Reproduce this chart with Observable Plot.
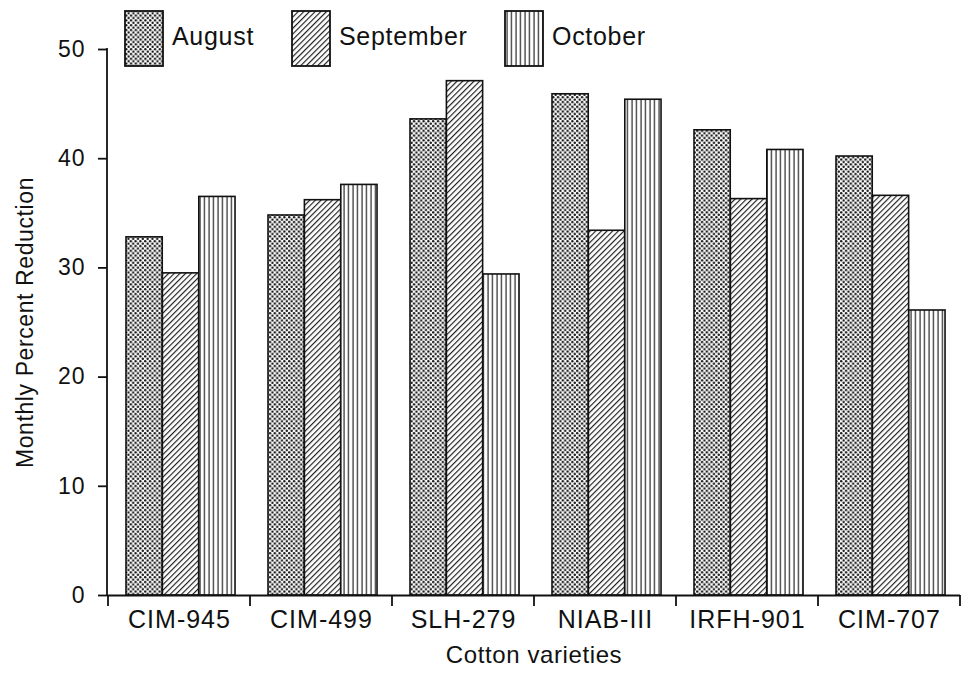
<!DOCTYPE html>
<html>
<head>
<meta charset="utf-8">
<script src="https://cdn.jsdelivr.net/npm/d3@7"></script>
<script src="https://cdn.jsdelivr.net/npm/@observablehq/plot@0.6"></script>
<style>
  body { margin: 0; background: #fff; }
  #wrap { position: relative; width: 963px; height: 673px; font-family: "Liberation Sans", Arial, sans-serif; }
  #legend { position: absolute; left: 0; top: 0; }
</style>
</head>
<body>
<svg width="0" height="0" style="position:absolute">
  <defs>
    <pattern id="pat-dots" patternUnits="userSpaceOnUse" width="4.8" height="4.8">
      <rect width="4.8" height="4.8" fill="#fff"/>
      <circle cx="1.2" cy="1.2" r="1.2" fill="#111"/>
      <circle cx="3.6" cy="3.6" r="1.2" fill="#111"/>
    </pattern>
    <pattern id="pat-diag" patternUnits="userSpaceOnUse" width="4" height="4" patternTransform="rotate(45)">
      <rect width="4" height="4" fill="#fff"/>
      <line x1="0.6" y1="0" x2="0.6" y2="4" stroke="#111" stroke-width="1.1"/>
    </pattern>
    <pattern id="pat-vert" patternUnits="userSpaceOnUse" width="4.5" height="4.5">
      <rect width="4.5" height="4.5" fill="#fff"/>
      <line x1="2" y1="0" x2="2" y2="4.5" stroke="#111" stroke-width="1.1"/>
    </pattern>
  </defs>
</svg>
<div id="wrap"></div>
<script>
// ---- data ----
const varieties = ["CIM-945", "CIM-499", "SLH-279", "NIAB-III", "IRFH-901", "CIM-707"];
const months = ["August", "September", "October"];
const augustValues    = [32.8, 34.8, 43.6, 45.9, 42.6, 40.2];
const septemberValues = [29.5, 36.2, 47.1, 33.4, 36.3, 36.6];
const octoberValues   = [36.5, 37.6, 29.4, 45.4, 40.8, 26.1];
const yTicks = [0, 10, 20, 30, 40, 50];

const seriesValues = [augustValues, septemberValues, octoberValues];
const patterns = ["url(#pat-dots)", "url(#pat-diag)", "url(#pat-vert)"];

const table = months.flatMap((m, j) =>
  varieties.map((v, i) => ({variety: v, month: m, value: seriesValues[j][i]})));

// ---- layout ----
const W = 963, H = 673, mL = 107, mR = 3, mT = 49, mB = 78;
const step = (W - mL - mR) / varieties.length;
const barW = 36.4, firstOffset = 18;
const font = "Liberation Sans, Arial, sans-serif";

const barMarks = months.map((m, j) => Plot.barY(table.filter(d => d.month === m), {
  x: "variety",
  y: "value",
  fill: patterns[j],
  stroke: "#111",
  strokeWidth: 1.6,
  insetLeft: firstOffset + j * barW,
  insetRight: step - firstOffset - (j + 1) * barW
}));

const chart = Plot.plot({
  width: W,
  height: H,
  marginLeft: mL,
  marginRight: mR,
  marginTop: mT,
  marginBottom: mB,
  style: {fontFamily: font, background: "white", color: "#111", overflow: "visible"},
  x: {domain: varieties, padding: 0},
  y: {domain: [0, 50]},
  marks: [
    ...barMarks,
    Plot.ruleY([0], {stroke: "#111", strokeWidth: 1.8}),
    Plot.axisY({ticks: yTicks, tickSize: 9, tickPadding: 13, fontSize: 23, strokeWidth: 1.8, label: null}),
    Plot.axisX({tickSize: 0, tickPadding: 15, fontSize: 25, label: null}),
    Plot.text(["Monthly Percent Reduction"], {text: d => d, frameAnchor: "left", rotate: -90, dx: -82,
      textAnchor: "middle", lineAnchor: "middle", fontSize: 23}),
    Plot.text(["Cotton varieties"], {text: d => d, frameAnchor: "bottom", dy: 60,
      textAnchor: "middle", lineAnchor: "middle", fontSize: 24})
  ]
});

// axis lines and between-group ticks, positioned from Plot's own scales
const sx = chart.scale("x"), sy = chart.scale("y");
const g = d3.select(chart).append("g").attr("stroke", "#111").attr("stroke-width", 1.8);
const y0 = sy.apply(0), yTop = sy.apply(50);
g.append("line").attr("x1", sx.range[0]).attr("x2", sx.range[0]).attr("y1", yTop - 0.9).attr("y2", y0);
const bounds = varieties.map(v => sx.apply(v)).concat([sx.range[1]]);
g.selectAll("line.b").data(bounds).join("line").attr("class", "b")
  .attr("x1", d => d).attr("x2", d => d).attr("y1", y0).attr("y2", y0 + 11);

d3.select(chart).selectAll('g[aria-label="x-axis tick label"] text').style("letter-spacing", "1px");
d3.select(chart).selectAll('g[aria-label="y-axis tick label"] text').style("letter-spacing", "1px");
d3.select(chart).selectAll('g[aria-label="text"] text').style("letter-spacing", "0.6px");

const wrap = document.getElementById("wrap");
wrap.appendChild(chart);

// legend overlay
const legendX = [125, 292, 505];
const leg = d3.select(wrap).append("svg").attr("id", "legend").attr("width", W).attr("height", 80);
const items = leg.selectAll("g").data(months).join("g")
  .attr("transform", (d, j) => `translate(${legendX[j]},0)`);
items.append("rect").attr("x", 0).attr("y", 11).attr("width", 38).attr("height", 55)
  .attr("fill", (d, j) => patterns[j]).attr("stroke", "#111").attr("stroke-width", 1.8);
items.append("text").attr("x", 47).attr("y", 45).text(d => d)
  .attr("font-family", font).attr("font-size", 25).attr("fill", "#111").style("letter-spacing", "0.7px");
</script>
</body>
</html>
